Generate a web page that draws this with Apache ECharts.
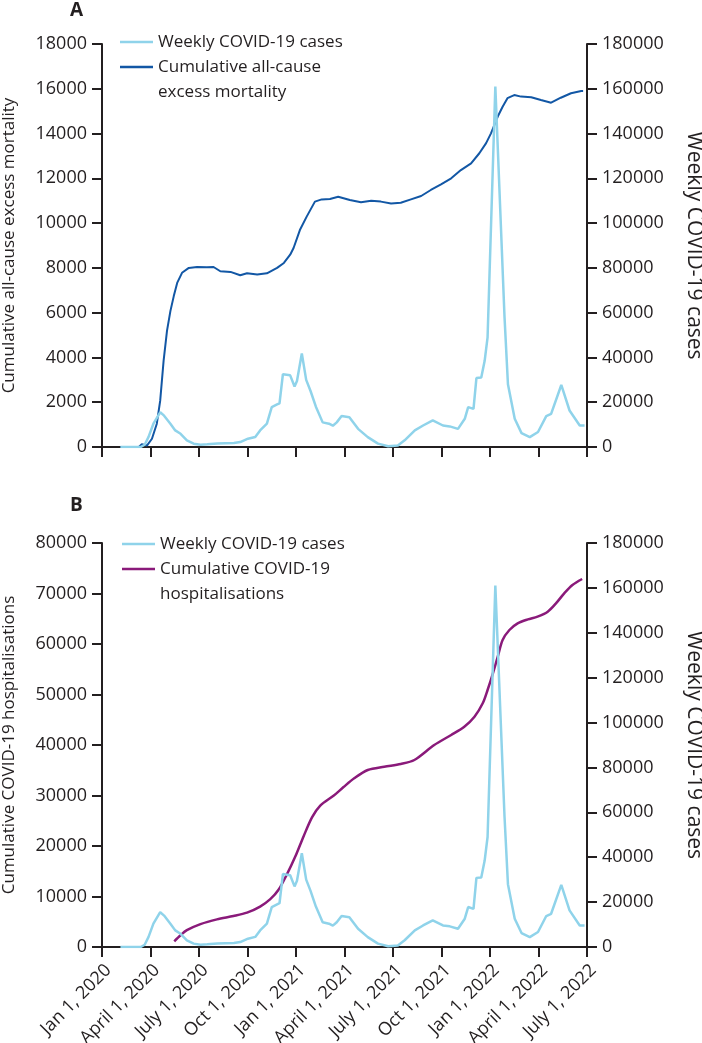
<!DOCTYPE html>
<html><head><meta charset="utf-8">
<script src="https://cdn.jsdelivr.net/npm/echarts@6/dist/echarts.min.js"></script>
<style>html,body{margin:0;padding:0;background:#fff}#c{width:702px;height:1043px}</style>
</head><body><div id="c"></div>
<script>
// x positions are in quarters since Jan 1, 2020 (0 = Jan 1 2020, 1 = April 1 2020, ...)
const tickLabels = ['Jan 1, 2020','April 1, 2020','July 1, 2020','Oct 1, 2020','Jan 1, 2021','April 1, 2021','July 1, 2021','Oct 1, 2021','Jan 1, 2022','April 1, 2022','July 1, 2022'];

// Weekly COVID-19 cases
const caseT = [0.38,0.80,0.88,0.96,1.06,1.20,1.28,1.41,1.51,1.62,1.75,1.89,2.03,2.17,2.38,2.72,2.85,3.01,3.16,3.26,3.40,3.50,3.61,3.66,3.73,3.88,3.97,4.02,4.12,4.21,4.30,4.41,4.55,4.68,4.76,4.84,4.94,5.10,5.28,5.48,5.69,5.90,6.10,6.24,6.45,6.62,6.82,7.03,7.17,7.34,7.48,7.55,7.66,7.72,7.82,7.89,7.95,8.11,8.30,8.37,8.51,8.65,8.82,8.99,9.16,9.26,9.47,9.64,9.85,9.95];
const caseV = [0,0,1000,4500,10400,15500,14000,10400,7400,5900,3000,1500,1000,1200,1600,1800,2200,3700,4500,7400,10400,17800,19000,19500,32500,32000,27000,29500,41800,30000,25000,18000,11000,10400,9500,11000,13800,13300,8100,4400,1500,300,700,3000,7400,9600,11900,9600,9200,8100,12600,17800,17000,30800,31000,38500,49000,161000,57800,28000,12600,6200,4400,6700,13800,14800,27700,16300,9600,9600];

// Cumulative all-cause excess mortality
const mortT = [0.38,0.76,0.82,0.93,1.03,1.13,1.20,1.27,1.34,1.41,1.48,1.55,1.65,1.79,1.96,2.16,2.30,2.44,2.65,2.85,2.99,3.20,3.40,3.61,3.75,3.88,3.95,4.08,4.22,4.39,4.53,4.70,4.87,5.11,5.34,5.55,5.75,5.96,6.16,6.37,6.58,6.78,6.99,7.20,7.40,7.61,7.78,7.92,8.02,8.16,8.26,8.36,8.50,8.64,8.85,9.05,9.26,9.46,9.67,9.88,9.92];
const mortV = [0,0,120,70,370,1040,2070,3850,5190,6070,6740,7330,7780,8000,8040,8030,8040,7850,7820,7670,7760,7700,7760,8000,8220,8590,8890,9690,10290,10960,11060,11080,11180,11030,10930,11000,10960,10880,10910,11060,11210,11480,11730,12000,12370,12670,13120,13570,14010,14760,15200,15580,15720,15650,15620,15500,15380,15600,15800,15900,15900];

// Cumulative COVID-19 hospitalisations
const hospT = [1.49,1.62,1.75,2.03,2.37,2.71,2.99,3.26,3.47,3.64,3.81,3.99,4.16,4.33,4.50,4.78,4.98,5.20,5.48,5.82,6.16,6.44,6.85,7.20,7.47,7.68,7.85,7.95,8.06,8.16,8.26,8.40,8.57,8.78,8.98,9.19,9.36,9.53,9.70,9.90];
const hospV = [1130,2330,3330,4530,5470,6130,6800,8000,9470,11330,14330,18000,22000,25670,28000,30000,31670,33400,35050,35700,36240,37030,40000,41980,43620,45600,48260,50890,54190,57490,60790,62770,64090,64880,65410,66400,68050,70030,71680,72870];

const pairs = (t, v) => t.map((x, i) => [x, v[i]]);
const INK = '#231f20';
const FONT = 'Open Sans';
const CASE_C = '#8fd3ea', MORT_C = '#1257a5', HOSP_C = '#8a1a7a';

function xAxis(gi, showLabels) {
  return {
    type: 'value', gridIndex: gi, min: 0, max: 10, interval: 1,
    axisLine: { show: true, lineStyle: { color: INK, width: 2 } },
    axisTick: { show: true, length: 10, lineStyle: { color: INK, width: 2 } },
    splitLine: { show: false },
    axisLabel: { show: showLabels, rotate: 45, margin: 14, verticalAlign: 'top', color: INK, fontSize: 18, fontFamily: FONT,
      hideOverlap: false, formatter: v => tickLabels[Math.round(v)] }
  };
}
function yAxis(gi, pos, max, interval, name, gap, nameSize) {
  return {
    type: 'value', gridIndex: gi, position: pos, min: 0, max: max, interval: interval,
    name: name, nameLocation: 'middle', nameGap: gap, nameRotate: pos === 'left' ? 90 : -90,
    nameTextStyle: { color: INK, fontSize: nameSize, fontFamily: FONT },
    axisLine: { show: true, lineStyle: { color: INK, width: 2 } },
    axisTick: { show: true, length: 10, lineStyle: { color: INK, width: 2 } },
    splitLine: { show: false },
    axisLabel: { margin: 15, color: INK, fontSize: 18, fontFamily: FONT, formatter: v => String(v) }
  };
}
function legend(top, left, names) {
  return {
    orient: 'vertical', top: top, left: left, itemWidth: 33, itemHeight: 2.5, itemGap: -25,
    icon: 'rect', padding: 0, selectedMode: false, data: names,
    textStyle: { color: INK, fontSize: 17, fontFamily: FONT, lineHeight: 25 },
    formatter: n => {
      if (n === 'Cumulative all-cause excess mortality') return '\nCumulative all-cause\nexcess mortality';
      if (n === 'Cumulative COVID-19 hospitalisations') return '\nCumulative COVID-19\nhospitalisations';
      return n;
    }
  };
}

const chart = echarts.init(document.getElementById('c'), null, { renderer: 'canvas' });
chart.setOption({
  animation: false,
  textStyle: { fontFamily: FONT },
  title: [
    { text: 'A', left: 70, top: 1, padding: 0, textStyle: { fontSize: 19, fontWeight: 'bold', color: INK, fontFamily: FONT } },
    { text: 'B', left: 70, top: 496, padding: 0, textStyle: { fontSize: 19, fontWeight: 'bold', color: INK, fontFamily: FONT } }
  ],
  legend: [
    legend(29.5, 120, ['Weekly COVID-19 cases', 'Cumulative all-cause excess mortality']),
    legend(531.5, 122, ['Weekly COVID-19 cases', 'Cumulative COVID-19 hospitalisations'])
  ],
  grid: [
    { left: 102, top: 44, width: 485, height: 403, containLabel: false, outerBoundsMode: 'none' },
    { left: 102, top: 543, width: 485, height: 404, containLabel: false, outerBoundsMode: 'none' }
  ],
  xAxis: [xAxis(0, false), xAxis(1, true)],
  yAxis: [
    yAxis(0, 'left', 18000, 2000, 'Cumulative all-cause excess mortality', 84, 17),
    yAxis(0, 'right', 180000, 20000, 'Weekly COVID-19 cases', 96, 21),
    yAxis(1, 'left', 80000, 10000, 'Cumulative COVID-19 hospitalisations', 84, 17),
    yAxis(1, 'right', 180000, 20000, 'Weekly COVID-19 cases', 96, 21)
  ],
  series: [
    { name: 'Cumulative all-cause excess mortality', type: 'line', xAxisIndex: 0, yAxisIndex: 0, data: pairs(mortT, mortV),
      showSymbol: false, color: MORT_C, lineStyle: { color: MORT_C, width: 2 }, z: 2 },
    { name: 'Weekly COVID-19 cases', type: 'line', xAxisIndex: 0, yAxisIndex: 1, data: pairs(caseT, caseV),
      showSymbol: false, color: CASE_C, lineStyle: { color: CASE_C, width: 2.5 }, z: 3 },
    { name: 'Cumulative COVID-19 hospitalisations', type: 'line', xAxisIndex: 1, yAxisIndex: 2, data: pairs(hospT, hospV),
      smooth: 0.3, showSymbol: false, color: HOSP_C, lineStyle: { color: HOSP_C, width: 2.5 }, z: 2 },
    { name: 'Weekly COVID-19 cases', type: 'line', xAxisIndex: 1, yAxisIndex: 3, data: pairs(caseT, caseV),
      showSymbol: false, color: CASE_C, lineStyle: { color: CASE_C, width: 2.5 }, z: 3 }
  ]
});
</script></body></html>
